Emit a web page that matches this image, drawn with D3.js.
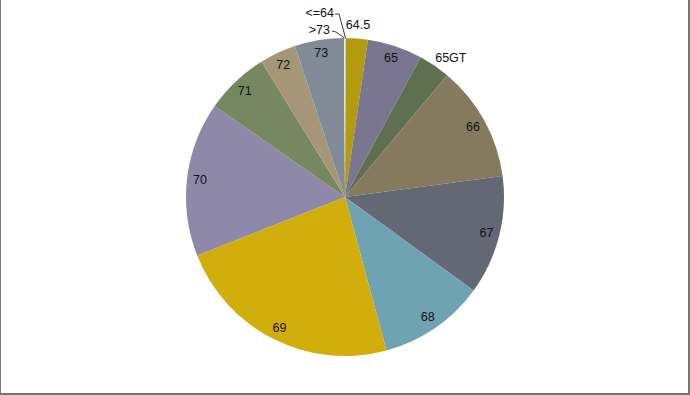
<!DOCTYPE html>
<html><head><meta charset="utf-8">
<script src="https://cdn.jsdelivr.net/npm/d3@7"></script>
<style>html,body{margin:0;padding:0;background:#fff;}svg{display:block;}</style>
</head><body>
<svg id="c" width="690" height="395"></svg>
<script>
const categories = ["<=64","64.5","65","65GT","66","67","68","69","70","71","72","73",">73"];
const values = [0.1, 2.2, 5.6, 3.2, 11.8, 12.1, 10.8, 23.2, 15.7, 6.5, 3.7, 5.0, 0.1];
const colors = ["#bcd6e0","#b39b0e","#7a7590","#5e7050","#857a5e","#646874","#6fa2b2","#d1ae0c","#8e89a8","#77875f","#a49677","#818a97","#e6edf1"];
// label placement kind: inside, outside, leader
const labelKind = ["leader","outside","inside","outside","inside","inside","inside","inside","inside","inside","inside","inside","leader"];

const svg = d3.select("#c");
svg.append("rect").attr("x",0).attr("y",-5).attr("width",689).attr("height",399)
  .attr("fill","#fff").attr("stroke","#767676").attr("stroke-width",2);

const cx = 345, cy = 197, R = 159;
const g = svg.append("g").attr("transform",`translate(${cx},${cy})`);
const data = categories.map((c,i)=>({cat:c, value:values[i], color:colors[i], kind:labelKind[i]}));
const pie = d3.pie().value(d=>d.value).sort(null);
const arcs = pie(data);
const arc = d3.arc().innerRadius(0).outerRadius(R);
g.selectAll("path").data(arcs).join("path")
  .attr("d", arc).attr("fill", d=>d.data.color);

const font = "'Liberation Sans', Arial, sans-serif";
// label position: radius and small angular nudge for outside labels
function labelPos(d){
  let ang = (d.startAngle+d.endAngle)/2, r = 146;
  if (d.data.kind==="outside"){
    r = d.data.cat==="64.5" ? 172 : 175;
    if (d.data.cat==="65GT") ang += 3*Math.PI/180;
  }
  return [r*Math.sin(ang), -r*Math.cos(ang)];
}
g.selectAll("text.lab").data(arcs.filter(a=>a.data.kind!=="leader")).join("text")
  .attr("class","lab")
  .attr("transform", d=>`translate(${labelPos(d)})`)
  .attr("text-anchor","middle").attr("dominant-baseline","central")
  .attr("font-family",font).attr("font-size",12.5).attr("fill","#111")
  .text(d=>d.data.cat);

// leader-line labels for tiny slices
const leaders = arcs.filter(a=>a.data.kind==="leader");
const leaderSpec = {
  "<=64": {tx:-11, ty:-184, pts:[[-10,-183],[-6,-183],[0,-160]]},
  ">73":  {tx:-15, ty:-167, pts:[[-13,-166],[-9,-165],[-1,-160]]}
};
leaders.forEach(a=>{
  const s = leaderSpec[a.data.cat];
  const ang = (a.startAngle+a.endAngle)/2;
  const edge = [R*Math.sin(ang), -R*Math.cos(ang)];
  const pts = s.pts.slice(0,-1).concat([edge]);
  g.append("path").attr("d", d3.line()(pts)).attr("fill","none")
    .attr("stroke","#222").attr("stroke-width",0.9);
  g.append("text").attr("x",s.tx).attr("y",s.ty)
    .attr("text-anchor","end").attr("dominant-baseline","central")
    .attr("font-family",font).attr("font-size",12.5).attr("fill","#111")
    .text(a.data.cat);
});
</script>
</body></html>
